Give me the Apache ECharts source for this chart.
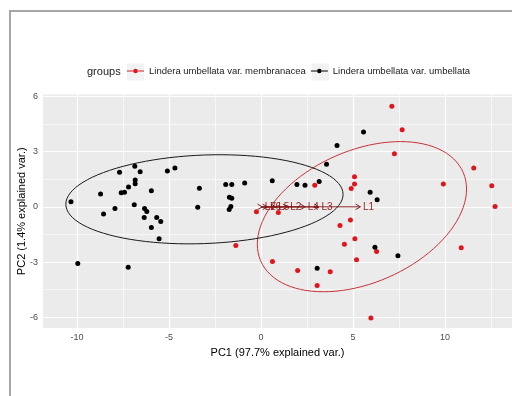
<!DOCTYPE html>
<html>
<head>
<meta charset="utf-8">
<script src="https://cdn.jsdelivr.net/npm/echarts@6/dist/echarts.min.js"></script>
<style>
html, body { margin: 0; padding: 0; background: #fff; }
#chart { width: 512px; height: 396px; }
</style>
</head>
<body>
<div id="chart"></div>
<script>
// groups
var groupNames = ['Lindera umbellata var. membranacea', 'Lindera umbellata var. umbellata'];
var groupColors = ['#E0161E', '#000000'];

// PC scores
var membranacea = [
    [-0.25, -0.27], [0.94, -0.31], [-1.37, -2.10], [0.62, -2.97], [2.92, 1.17],
    [7.11, 5.46], [7.67, 4.18], [7.25, 2.88], [5.08, 1.64], [5.08, 1.24],
    [4.90, 0.99], [9.91, 1.24], [11.56, 2.11], [12.54, 1.15], [12.72, 0.02],
    [4.29, -1.01], [4.86, -0.72], [4.53, -2.03], [5.10, -1.74], [10.88, -2.22],
    [6.28, -2.43], [5.19, -2.88], [1.99, -3.46], [3.76, -3.53], [3.05, -4.27],
    [5.97, -6.04]
];
var umbellata = [
    [-10.33, 0.27], [-8.72, 0.69], [-8.56, -0.39], [-7.94, -0.09], [-7.69, 1.88],
    [-7.60, 0.76], [-7.42, 0.79], [-7.20, 1.08], [-6.86, 2.20], [-6.57, 1.91],
    [-6.84, 1.46], [-6.84, 1.26], [-6.89, 0.11], [-6.33, -0.09], [-6.21, -0.25],
    [-6.35, -0.58], [-5.96, 0.88], [-5.67, -0.58], [-5.45, -0.79], [-5.96, -1.12],
    [-5.54, -1.73], [-5.09, 1.95], [-4.68, 2.11], [-3.35, 1.01], [-3.44, -0.02],
    [-1.92, 1.21], [-1.59, 1.21], [-0.89, 1.30], [-1.72, 0.52], [-1.59, 0.47],
    [-1.64, 0.02], [-1.73, -0.15], [0.61, 1.42], [-9.96, -3.08], [-7.22, -3.28],
    [1.95, 1.21], [2.39, 1.17], [3.16, 1.37], [3.56, 2.31], [4.13, 3.33],
    [5.57, 4.07], [5.93, 0.79], [6.31, 0.39], [6.19, -2.20], [7.44, -2.65],
    [3.05, -3.33]
];

// variable loadings (arrow ends)
var varNames = ['L1', 'L3', 'L4', 'L2', 'L5', 'L6', 'L7'];
var varX = [5.40, 3.15, 2.40, 1.45, 0.80, 0.35, 0.07];
var varY = [0, 0, 0, 0, 0, 0, 0];

// axis ticks
var xTicks = [-10, -5, 0, 5, 10];
var yTicks = [-6, -3, 0, 3, 6];
var xMinor = [-7.5, -2.5, 2.5, 7.5, 12.5];
var yMinor = [-4.5, -1.5, 1.5, 4.5];

var ellipseProb = 0.68;

// normal data ellipse like ggbiplot: circle %*% chol(cov) * sqrt(qchisq(p, 2)) + mean
function dataEllipse(pts, prob) {
    var n = pts.length, mx = 0, my = 0;
    pts.forEach(function (p) { mx += p[0]; my += p[1]; });
    mx /= n; my /= n;
    var sxx = 0, syy = 0, sxy = 0;
    pts.forEach(function (p) {
        var dx = p[0] - mx, dy = p[1] - my;
        sxx += dx * dx; syy += dy * dy; sxy += dx * dy;
    });
    sxx /= (n - 1); syy /= (n - 1); sxy /= (n - 1);
    var a = Math.sqrt(sxx), b = sxy / a, c = Math.sqrt(syy - b * b);
    var ed = Math.sqrt(-2 * Math.log(1 - prob));
    var out = [];
    for (var i = 0; i <= 100; i++) {
        var t = 2 * Math.PI * i / 100;
        var ct = Math.cos(t), st = Math.sin(t);
        out.push([mx + ed * ct * a, my + ed * (ct * b + st * c)]);
    }
    return out;
}

var gridLines = function (vals, axis, width) {
    return vals.map(function (v) {
        var d = {}; d[axis] = v;
        d.lineStyle = { width: width };
        return d;
    });
};

var chart = echarts.init(document.getElementById('chart'));
var baseFont = 'Liberation Sans, Arial, sans-serif';

var option = {
    backgroundColor: '#fff',
    animation: false,
    textStyle: { fontFamily: baseFont },
    grid: {
        left: 43, top: 94.5, right: 0, bottom: 68,
        show: true, backgroundColor: '#EBEBEB', borderWidth: 0
    },
    xAxis: {
        type: 'value',
        min: -11.85, max: 13.64,
        name: 'PC1 (97.7% explained var.)',
        nameLocation: 'middle',
        nameGap: 19,
        nameMoveOverlap: false,
        nameTextStyle: { fontSize: 11, color: '#000', fontFamily: baseFont },
        axisLine: { show: false },
        axisTick: { show: true, customValues: xTicks, length: 3, lineStyle: { color: '#333', width: 0.8 } },
        axisLabel: { customValues: xTicks, fontSize: 9, color: '#4D4D4D', margin: 5, fontFamily: baseFont },
        splitLine: { show: false }
    },
    yAxis: {
        type: 'value',
        min: -6.58, max: 6.1,
        name: 'PC2 (1.4% explained var.)',
        nameLocation: 'middle',
        nameGap: 15.5,
        nameMoveOverlap: false,
        nameTextStyle: { fontSize: 11, color: '#000', fontFamily: baseFont },
        axisLine: { show: false },
        axisTick: { show: true, customValues: yTicks, length: 3, lineStyle: { color: '#333', width: 0.8 } },
        axisLabel: { customValues: yTicks, fontSize: 9, color: '#4D4D4D', margin: 5, fontFamily: baseFont },
        splitLine: { show: false }
    },
    legend: {
        data: groupNames,
        left: 127, top: 66, padding: 0,
        itemWidth: 17, itemHeight: 5,
        itemGap: 5,
        icon: 'path://M0,9.45H20V10.55H0Z M12.6,10A2.6,2.6,0,1,1,7.4,10A2.6,2.6,0,1,1,12.6,10Z',
        textStyle: { fontSize: 9.5, color: '#1A1A1A', fontFamily: baseFont }
    },
    graphic: [
        { type: 'rect', shape: { x: 10, y: 11, width: 600, height: 500 }, style: { fill: null, stroke: '#A6A6A6', lineWidth: 2 }, silent: true },
        { type: 'rect', shape: { x: 127, y: 63.5, width: 17, height: 17 }, style: { fill: '#F2F2F2' }, z: -1, silent: true },
        { type: 'rect', shape: { x: 312, y: 63.5, width: 17, height: 17 }, style: { fill: '#F2F2F2' }, z: -1, silent: true },
        { type: 'text', x: 87, y: 72, style: { text: 'groups', font: '11px ' + baseFont, fill: '#1A1A1A', verticalAlign: 'middle', textVerticalAlign: 'middle' }, silent: true }
    ],
    series: [
        {
            // panel grid lines
            type: 'line', data: [], silent: true, z: 1,
            markLine: {
                silent: true, symbol: 'none', label: { show: false }, z: 1,
                lineStyle: { color: '#FFFFFF', type: 'solid' },
                data: gridLines(xMinor, 'xAxis', 0.6).concat(gridLines(yMinor, 'yAxis', 0.6))
                    .concat(gridLines(xTicks, 'xAxis', 1.2)).concat(gridLines(yTicks, 'yAxis', 1.2))
            }
        },
        {
            // loading arrows
            type: 'custom', silent: true, z: 6,
            data: varX.map(function (x, i) { return [x, varY[i]]; }),
            renderItem: function (params, api) {
                var o = api.coord([0, 0]);
                var p = api.coord([api.value(0), api.value(1)]);
                var ang = Math.atan2(p[1] - o[1], p[0] - o[0]);
                var L = 5.5, w = Math.PI / 6;
                var a1 = [p[0] - L * Math.cos(ang - w), p[1] - L * Math.sin(ang - w)];
                var a2 = [p[0] - L * Math.cos(ang + w), p[1] - L * Math.sin(ang + w)];
                return {
                    type: 'group',
                    children: [
                        { type: 'line', shape: { x1: o[0], y1: o[1], x2: p[0], y2: p[1] }, style: { stroke: '#832424', lineWidth: 1 } },
                        { type: 'polyline', shape: { points: [a1, p, a2] }, style: { stroke: '#832424', fill: null, lineWidth: 1 } }
                    ]
                };
            }
        },
        {
            name: groupNames[0], type: 'scatter', data: membranacea, z: 7,
            symbolSize: 5, itemStyle: { color: groupColors[0], opacity: 1 }
        },
        {
            name: groupNames[1], type: 'scatter', data: umbellata, z: 7,
            symbolSize: 5, itemStyle: { color: groupColors[1], opacity: 1 }
        },
        {
            type: 'line', data: dataEllipse(membranacea, ellipseProb), z: 8,
            showSymbol: false, silent: true, legendHoverLink: false,
            lineStyle: { color: '#C8323A', width: 1 }
        },
        {
            type: 'line', data: dataEllipse(umbellata, ellipseProb), z: 8,
            showSymbol: false, silent: true, legendHoverLink: false,
            lineStyle: { color: '#1A1A1A', width: 1 }
        },
        {
            // loading labels
            type: 'custom', silent: true, z: 9,
            data: varX.map(function (x, i) { return [x, varY[i]]; }),
            renderItem: function (params, api) {
                var p = api.coord([api.value(0), api.value(1)]);
                return {
                    type: 'text', x: p[0] + 2.5, y: p[1],
                    style: {
                        text: varNames[params.dataIndex], fill: '#8B0000', opacity: 0.85,
                        font: '10px ' + baseFont, align: 'left', verticalAlign: 'middle',
                        textAlign: 'left', textVerticalAlign: 'middle'
                    }
                };
            }
        }
    ]
};

chart.setOption(option);
window.addEventListener('resize', function () { chart.resize(); });
</script>
</body>
</html>
